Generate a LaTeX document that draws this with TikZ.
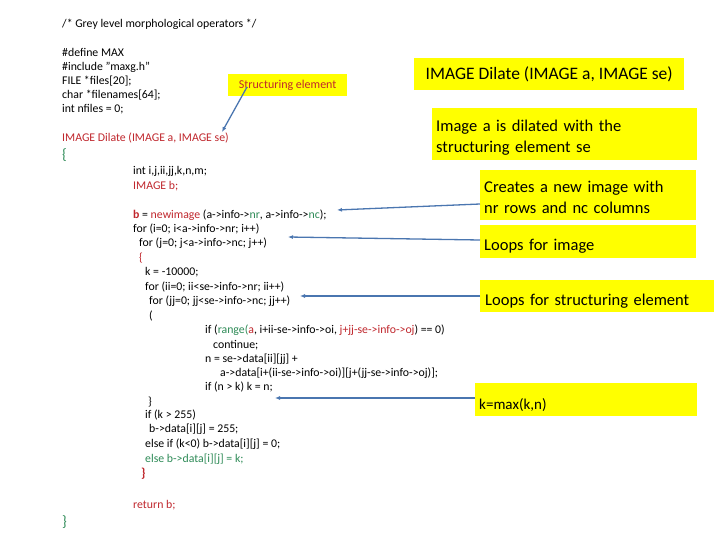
\documentclass[tikz,border=0pt]{standalone}
\usepackage{fontspec}
\setmainfont{Carlito}
\usetikzlibrary{arrows.meta}
\definecolor{cred}{HTML}{C0272D}
\definecolor{cgreen}{HTML}{2E8B57}
\definecolor{cblue}{HTML}{4A76B0}
\definecolor{cyel}{HTML}{FFFF00}
\begin{document}
\begin{tikzpicture}[x=1pt,y=-1pt,
  code/.style={anchor=west,inner sep=0pt,font=\fontsize{11.8}{12}\selectfont},
  note/.style={fill=cyel,anchor=north west,inner sep=0pt,align=left},
  arr/.style={cblue,line width=1.3pt,-{Latex[length=5pt,width=4pt]}}]
\useasboundingbox (0,0) rectangle (720,540);
\fill[white] (0,0) rectangle (720,540);
\node[code] (c0) at (62,24) {/* Grey level morphological operators */};
\node[code] (c1) at (62,52) {\#define MAX};
\node[code] (c2) at (62,67) {\#include "maxg.h"};
\node[code] (c3) at (62,81) {FILE *files[20];};
\node[code] (c4) at (62,95) {char *filenames[64];};
\node[code] (c5) at (62,109) {int nfiles = 0;};
\node[code,text=cred] (d0) at (62,138) {IMAGE Dilate (IMAGE a, IMAGE se)};
\node[code,text=cgreen,font=\fontsize{15}{15}\selectfont] (d1) at (62,155) {\{};
\node[code] (l1) at (133,171) {int i,j,ii,jj,k,n,m;};
\node[code,text=cred] (l2) at (133,186) {IMAGE b;};
\node[code] (l3) at (133,215) {\textcolor{cred}{\textbf{b}} = \textcolor{cred}{newimage} (a->info->\textcolor{cgreen}{nr}, a->info->\textcolor{cgreen}{nc});};
\node[code] (l4) at (133,229) {for (i=0; i<a->info->nr; i++)};
\node[code] (l5) at (139,243) {for (j=0; j<a->info->nc; j++)};
\node[code,text=cred] (l6) at (139,258) {\{};
\node[code] (l7) at (145,272) {k = -10000;};
\node[code] (l8) at (145,287) {for (ii=0; ii<se->info->nr; ii++)};
\node[code] (l9) at (149,301) {for (jj=0; jj<se->info->nc; jj++)};
\node[code] (l10) at (149,316) {(};
\node[code] (l11) at (205,330) {if (\textcolor{cgreen}{range(}\textcolor{cred}{a}, i+ii-se->info->oi, \textcolor{cred}{j+jj-se->info->oj}) == 0)};
\node[code] (l12) at (213,345) {continue;};
\node[code] (l13) at (205,359) {n = se->data[ii][jj] +};
\node[code] (l14) at (220,373) {a->data[i+(ii-se->info->oi)][j+(jj-se->info->oj)];};
\node[code] (l15) at (205,387) {if (n > k) k = n;};
\node[code] (l16) at (148,402) {\}};
\node[code] (l17) at (145,415) {if (k > 255)};
\node[code] (l18) at (149,429) {b->data[i][j] = 255;};
\node[code] (l19) at (145,444) {else if (k<0) b->data[i][j] = 0;};
\node[code,text=cgreen] (l20) at (145,459) {else b->data[i][j] = k;};
\node[code,text=cred,font=\fontsize{13}{13}\selectfont\bfseries] (l21) at (141,474) {\}};
\node[code,text=cred] (l22) at (133,505) {return b;};
\node[code,text=cgreen,font=\fontsize{15}{15}\selectfont] (l23) at (62,522) {\}};
% notes
\node[note,minimum width=119,minimum height=22,align=center,font=\fontsize{12}{12}\selectfont,text=cred] (n1) at (228,74) {Structuring element};
\node[note,minimum width=270,minimum height=32,align=center,font=\fontsize{17.5}{18}\selectfont] (n2) at (414,58) {IMAGE Dilate (IMAGE a, IMAGE se)};
\node[note,minimum width=263,minimum height=52,font=\fontsize{16.5}{21}\selectfont,text width=257,inner xsep=4pt] (n3) at (432,108) {\rule{0pt}{18pt}Image a is dilated with the\\ structuring element se};
\node[note,minimum width=215,minimum height=50,font=\fontsize{16.5}{21}\selectfont,text width=208,inner xsep=4pt] (n4) at (480,170) {\rule{0pt}{16pt}Creates a new image with\\ nr rows and nc columns};
\node[note,minimum width=215,minimum height=33,font=\fontsize{16.5}{18}\selectfont,text width=208,inner xsep=4pt] (n5) at (480,225) {\rule{0pt}{21pt}Loops for image};
\node[note,minimum width=230,minimum height=32,font=\fontsize{16.5}{18}\selectfont,text width=224,inner xsep=5pt] (n6) at (480,280) {\rule{0pt}{21pt}Loops for structuring element};
\node[note,minimum width=220,minimum height=33,font=\fontsize{15}{16}\selectfont,text width=214,inner xsep=4pt] (n7) at (475,383) {\rule{0pt}{22pt}k=max(k,n)};
\coordinate (a0) at (222,132);
\coordinate (a1) at (337,210);
\coordinate (a2) at (288,237);
\coordinate (a3) at (300,296);
\coordinate (a4) at (275,398);
\draw[arr] (247,87) -- (a0);
\draw[arr] (n4.west |- 0,204) -- (a1);
\draw[arr] (n5.west |- 0,240) -- (a2);
\draw[arr] (n6.west |- 0,296) -- (a3);
\draw[arr] (n7.west |- 0,398) -- (a4);
\end{tikzpicture}
\end{document}
